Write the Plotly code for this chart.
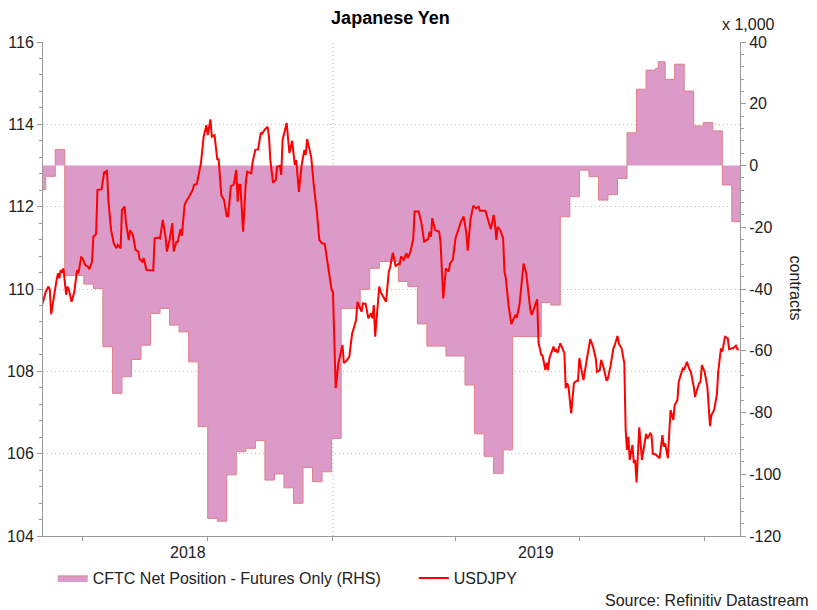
import plotly.graph_objects as go
import pandas as pd

# USDJPY daily close
usdjpy_dates = [
    "2018-06-01", "2018-06-04", "2018-06-06", "2018-06-07", "2018-06-08", "2018-06-10", "2018-06-12",
    "2018-06-13", "2018-06-14", "2018-06-15", "2018-06-16", "2018-06-17", "2018-06-19", "2018-06-20",
    "2018-06-21", "2018-06-23", "2018-06-25", "2018-06-27", "2018-06-28", "2018-06-30",
    "2018-07-01", "2018-07-03", "2018-07-05", "2018-07-06", "2018-07-08", "2018-07-09", "2018-07-11",
    "2018-07-12", "2018-07-15", "2018-07-17", "2018-07-18", "2018-07-19", "2018-07-20", "2018-07-22",
    "2018-07-24", "2018-07-26", "2018-07-27", "2018-07-29", "2018-07-30", "2018-08-01",
    "2018-08-02", "2018-08-04", "2018-08-05", "2018-08-07", "2018-08-09", "2018-08-11", "2018-08-12",
    "2018-08-14", "2018-08-15", "2018-08-17", "2018-08-19", "2018-08-22", "2018-08-23", "2018-08-26",
    "2018-08-27", "2018-08-29", "2018-08-31",
    "2018-09-01", "2018-09-03", "2018-09-05", "2018-09-06", "2018-09-08", "2018-09-09", "2018-09-11",
    "2018-09-12", "2018-09-14", "2018-09-15", "2018-09-17", "2018-09-20", "2018-09-21", "2018-09-23",
    "2018-09-26", "2018-09-28", "2018-09-30",
    "2018-10-01", "2018-10-03", "2018-10-04", "2018-10-06", "2018-10-08", "2018-10-09", "2018-10-11",
    "2018-10-13", "2018-10-15", "2018-10-16", "2018-10-18", "2018-10-20", "2018-10-22", "2018-10-23",
    "2018-10-24", "2018-10-25", "2018-10-27", "2018-10-29", "2018-10-30",
    "2018-11-02", "2018-11-03", "2018-11-05", "2018-11-07", "2018-11-09", "2018-11-10", "2018-11-12",
    "2018-11-14", "2018-11-15", "2018-11-16", "2018-11-18", "2018-11-20", "2018-11-21", "2018-11-23",
    "2018-11-24", "2018-11-25", "2018-11-27", "2018-11-28", "2018-11-30",
    "2018-12-02", "2018-12-04", "2018-12-05", "2018-12-07", "2018-12-09", "2018-12-11", "2018-12-12",
    "2018-12-13", "2018-12-16", "2018-12-18", "2018-12-20", "2018-12-22", "2018-12-24", "2018-12-26",
    "2018-12-28", "2018-12-31",
    "2019-01-01", "2019-01-02", "2019-01-03", "2019-01-05", "2019-01-07", "2019-01-08", "2019-01-09",
    "2019-01-11", "2019-01-13", "2019-01-15", "2019-01-18", "2019-01-19", "2019-01-20", "2019-01-22",
    "2019-01-23", "2019-01-25", "2019-01-27", "2019-01-29", "2019-01-30", "2019-01-31", "2019-02-01",
    "2019-02-04", "2019-02-05", "2019-02-07", "2019-02-09", "2019-02-11", "2019-02-12", "2019-02-14",
    "2019-02-15", "2019-02-16", "2019-02-18", "2019-02-19", "2019-02-20", "2019-02-22", "2019-02-24",
    "2019-02-25", "2019-02-27", "2019-03-01",
    "2019-03-02", "2019-03-05", "2019-03-07", "2019-03-09", "2019-03-12", "2019-03-13", "2019-03-14",
    "2019-03-15", "2019-03-17", "2019-03-20", "2019-03-21", "2019-03-23", "2019-03-25", "2019-03-27",
    "2019-03-28", "2019-03-30",
    "2019-04-01", "2019-04-03", "2019-04-05", "2019-04-07", "2019-04-09", "2019-04-10", "2019-04-12",
    "2019-04-14", "2019-04-16", "2019-04-18", "2019-04-19", "2019-04-23", "2019-04-26", "2019-04-27",
    "2019-04-29", "2019-04-30",
    "2019-05-01", "2019-05-02", "2019-05-04", "2019-05-06", "2019-05-07", "2019-05-08", "2019-05-10",
    "2019-05-12", "2019-05-15", "2019-05-16", "2019-05-18", "2019-05-21", "2019-05-23", "2019-05-25",
    "2019-05-26", "2019-05-27", "2019-05-29", "2019-05-31",
    "2019-06-01", "2019-06-03", "2019-06-04", "2019-06-06", "2019-06-07", "2019-06-08", "2019-06-09",
    "2019-06-11", "2019-06-12", "2019-06-13", "2019-06-14", "2019-06-15", "2019-06-17", "2019-06-19",
    "2019-06-20", "2019-06-21", "2019-06-22", "2019-06-23", "2019-06-25", "2019-06-27", "2019-06-29",
    "2019-06-30",
    "2019-07-01", "2019-07-03", "2019-07-04", "2019-07-06", "2019-07-08", "2019-07-09", "2019-07-11",
    "2019-07-13", "2019-07-14", "2019-07-16", "2019-07-17", "2019-07-19", "2019-07-21", "2019-07-22",
    "2019-07-24", "2019-07-26", "2019-07-27", "2019-07-29", "2019-07-30",
    "2019-08-01", "2019-08-03", "2019-08-04", "2019-08-05", "2019-08-06", "2019-08-07", "2019-08-09",
    "2019-08-10", "2019-08-11", "2019-08-12", "2019-08-13", "2019-08-14", "2019-08-16", "2019-08-18",
    "2019-08-19", "2019-08-20", "2019-08-22", "2019-08-23", "2019-08-24", "2019-08-26", "2019-08-28",
    "2019-08-29", "2019-08-31",
    "2019-09-01", "2019-09-02", "2019-09-04", "2019-09-05", "2019-09-06", "2019-09-08", "2019-09-09",
    "2019-09-11", "2019-09-12", "2019-09-14", "2019-09-15", "2019-09-16", "2019-09-18", "2019-09-19",
    "2019-09-21", "2019-09-23", "2019-09-24", "2019-09-25", "2019-09-27", "2019-09-28", "2019-09-29",
    "2019-10-01", "2019-10-03", "2019-10-05", "2019-10-06", "2019-10-08", "2019-10-10", "2019-10-11",
    "2019-10-13", "2019-10-14", "2019-10-16", "2019-10-18", "2019-10-19", "2019-10-21", "2019-10-22",
    "2019-10-24", "2019-10-25", "2019-10-26",
]
usdjpy = [
    109.57, 109.93, 110.06, 109.98, 109.39, 109.86, 110.22,
    110.38, 110.26, 110.46, 110.40, 110.50, 109.86, 110.06,
    109.98, 109.69, 109.93, 110.46, 110.38, 110.77,
    110.75, 110.58, 110.54, 110.48, 110.66, 111.27, 111.34,
    112.41, 112.42, 112.85, 112.82, 112.89, 112.16, 111.43,
    111.11, 110.99, 111.07, 110.99, 111.92, 112.00,
    111.60, 111.19, 111.43, 111.31, 110.95, 110.91, 110.72,
    110.66, 110.75, 110.46, 110.45, 110.45, 111.23, 111.25,
    111.23, 111.68, 111.27,
    110.91, 111.19, 111.60, 110.91, 111.15, 111.15, 111.45,
    111.29, 112.04, 112.12, 112.22, 112.41, 112.53, 112.55,
    113.05, 113.70, 113.98,
    113.74, 114.12, 113.70, 113.74, 113.15, 113.15, 112.28,
    112.16, 111.77, 111.77, 112.50, 112.53, 112.89, 112.12,
    112.53, 112.53, 111.39, 112.61, 112.85,
    112.81, 113.09, 113.38, 113.39, 113.80, 113.77, 113.88,
    113.94, 113.70, 113.13, 112.58, 112.65, 112.97, 112.99,
    112.77, 113.62, 113.86, 114.03, 113.30,
    113.60, 113.01, 113.13, 112.36, 113.01, 113.38, 113.26,
    113.64, 113.21, 112.49, 111.92, 111.19, 111.11, 111.09,
    110.62, 109.98,
    109.93, 108.84, 107.59, 108.20, 108.52, 108.64, 108.20,
    108.26, 108.35, 108.90, 109.25, 109.69, 109.61, 109.45,
    109.65, 109.64, 109.29, 109.41, 109.29, 109.61, 108.84,
    110.06, 109.93, 109.81, 109.69, 110.42, 110.53, 110.88,
    110.66, 110.56, 110.61, 110.60, 110.79, 110.71, 110.87,
    110.75, 110.91, 111.23,
    111.88, 111.88, 111.60, 111.15, 111.21, 111.39, 111.27,
    111.72, 111.43, 111.39, 111.15, 109.77, 110.50, 110.42,
    110.62, 110.70,
    111.23, 111.43, 111.63, 111.76, 111.35, 110.93, 111.68,
    112.02, 111.96, 112.00, 111.90, 111.90, 111.51, 111.45,
    111.80, 111.60,
    111.19, 111.51, 111.43, 111.23, 110.42, 110.26, 109.60,
    109.15, 109.37, 109.30, 109.61, 110.62, 110.38, 109.73,
    109.49, 109.37, 109.57, 109.75,
    108.70, 108.40, 108.38, 108.03, 108.21, 108.03, 108.32,
    108.52, 108.60, 108.48, 108.52, 108.45, 108.68, 108.52,
    108.44, 107.59, 107.71, 107.63, 106.98, 107.71, 107.77,
    107.77,
    108.32, 107.95, 107.79, 108.20, 108.56, 108.78, 108.60,
    108.32, 107.99, 108.03, 108.28, 108.07, 107.77, 107.83,
    108.15, 108.56, 108.64, 108.86, 108.67,
    108.56, 108.20, 106.58, 106.09, 106.41, 105.85, 106.21,
    105.77, 105.85, 105.30, 106.09, 106.64, 105.85, 106.25,
    106.48, 106.37, 106.49, 106.45, 106.00, 105.98, 105.91,
    105.89, 106.45,
    106.17, 106.25, 105.89, 106.49, 107.06, 106.82, 107.18,
    107.30, 107.75, 107.97, 108.07, 108.05, 108.23, 108.12,
    107.97, 107.63, 107.38, 107.51, 107.71, 107.75, 108.15,
    107.99, 107.63, 106.67, 106.94, 107.06, 107.43, 107.99,
    108.56, 108.48, 108.84, 108.80, 108.54, 108.56, 108.56,
    108.62, 108.54, 108.52,
]

# CFTC net position, futures only (thousands of contracts, weekly)
cftc_dates = [
    "2018-05-28", "2018-06-04", "2018-06-11", "2018-06-18", "2018-06-25", "2018-07-02", "2018-07-09",
    "2018-07-16", "2018-07-23", "2018-07-30", "2018-08-06", "2018-08-13", "2018-08-20", "2018-08-27",
    "2018-09-03", "2018-09-10", "2018-09-17", "2018-09-24", "2018-10-01", "2018-10-08", "2018-10-15",
    "2018-10-22", "2018-10-29", "2018-11-05", "2018-11-12", "2018-11-19", "2018-11-26", "2018-12-03",
    "2018-12-10", "2018-12-17", "2018-12-24", "2018-12-31", "2019-01-07", "2019-01-14", "2019-01-21",
    "2019-01-28", "2019-02-04", "2019-02-11", "2019-02-18", "2019-02-25", "2019-03-04", "2019-03-11",
    "2019-03-18", "2019-03-25", "2019-04-01", "2019-04-08", "2019-04-15", "2019-04-22", "2019-04-29",
    "2019-05-06", "2019-05-13", "2019-05-20", "2019-05-27", "2019-06-03", "2019-06-10", "2019-06-17",
    "2019-06-24", "2019-07-01", "2019-07-08", "2019-07-15", "2019-07-22", "2019-07-29", "2019-08-05",
    "2019-08-12", "2019-08-19", "2019-08-26", "2019-08-28", "2019-09-02", "2019-09-09", "2019-09-16",
    "2019-09-23", "2019-09-30", "2019-10-07", "2019-10-14", "2019-10-21", "2019-10-28",
]
cftc_net = [
    -7.8, -3.5, 5.2, -35.6, -35.6, -38.4, -39.8,
    -58.7, -73.8, -68.4, -62.8, -58.2, -47.9, -46.3,
    -51.7, -53.9, -63.6, -84.6, -114.3, -115.2, -100.2,
    -92.7, -91.6, -89.1, -101.9, -99.9, -104.4, -109.4,
    -97.8, -102.4, -99.2, -88.4, -46.3, -46.3, -40.1,
    -33.3, -31.1, -31.0, -37.6, -39.2, -51.3, -58.5,
    -58.5, -61.7, -61.7, -71.1, -86.9, -94.2, -99.7,
    -92.1, -55.4, -55.4, -55.4, -44.4, -45.2, -16.6,
    -10.1, -1.5, -3.6, -11.2, -9.4, -4.2, 10.6,
    24.7, 30.9, 31.5, 33.6, 27.9, 32.8, 24.1,
    12.8, 13.9, 11.2, -6.3, -18.2, -18.2,
]

x_range = ["2018-06-02", "2019-10-27"]
quarter_ticks = ["2018-07-01", "2018-10-01", "2019-01-01", "2019-04-01", "2019-07-01", "2019-10-01"]
year_starts = ["2018-01-01", "2019-01-01"]
year_labels = ["2018", "2019"]
yen_ticks = [104, 106, 108, 110, 112, 114, 116]
pos_ticks = [-120, -100, -80, -60, -40, -20, 0, 20, 40]

FONT = "Arial, Liberation Sans, sans-serif"
AXIS_GREY = "#9a9a9a"
GRID = "#9fcc98"
TXT = "#222222"

fig = go.Figure()

fig.add_trace(go.Scatter(
    x=cftc_dates, y=cftc_net, name="CFTC Net Position - Futures Only (RHS)",
    mode="lines", line=dict(shape="hv", color="#e07f86", width=1),
    fill="tozeroy", fillcolor="#dc9ac8", yaxis="y", legend="legend",
))
fig.add_trace(go.Scatter(
    x=usdjpy_dates, y=usdjpy, name="USDJPY",
    mode="lines", line=dict(color="#ff0000", width=2), yaxis="y2", legend="legend2",
))

# dotted line at the year boundary
fig.add_shape(type="line", xref="x", yref="paper", x0=year_starts[1], x1=year_starts[1],
              y0=0, y1=1, line=dict(color=GRID, width=1, dash="1px,3px"), layer="below")

# year labels centred on the visible part of each year
lo, hi = pd.Timestamp(x_range[0]), pd.Timestamp(x_range[1])
for start, lab in zip(year_starts, year_labels):
    a = max(pd.Timestamp(start), lo)
    b = min(pd.Timestamp(start) + pd.DateOffset(years=1), hi)
    mid = a + (b - a) / 2
    fig.add_annotation(x=mid, xref="x", y=0, yref="paper", yanchor="middle", yshift=-16,
                       text=lab, showarrow=False, font=dict(size=16, color=TXT))

fig.add_annotation(x=1.053, xref="paper", y=1.036, yref="paper", yanchor="middle",
                   text="x 1,000", showarrow=False, font=dict(size=16, color=TXT))
fig.add_annotation(x=1.0947, xref="paper", y=0.502, yref="paper", textangle=90,
                   text="contracts", showarrow=False, font=dict(size=16, color=TXT))
fig.add_annotation(x=1.102, xref="paper", xanchor="right", y=-0.1296, yref="paper", yanchor="middle",
                   text="Source: Refinitiv Datastream", showarrow=False, font=dict(size=16, color=TXT))

legend_style = dict(orientation="h", xanchor="left", y=-0.085, yanchor="middle",
                    font=dict(size=16, color=TXT), bgcolor="rgba(0,0,0,0)")

# the page shows the figure with an 8 px body margin, so the canvas is trimmed by that much
fig.update_layout(
    width=809, height=602,
    margin=dict(l=35, r=77, t=34, b=74, autoexpand=False),
    paper_bgcolor="white", plot_bgcolor="white",
    font=dict(family=FONT, size=16, color=TXT),
    title=dict(text="<b>Japanese Yen</b>", x=0.4728, xanchor="center", y=0.984, yanchor="middle",
               font=dict(size=18, color="black")),
    showlegend=True,
    legend=dict(x=0.014, **legend_style),
    legend2=dict(x=0.532, **legend_style),
    xaxis=dict(type="date", range=x_range, tickvals=quarter_ticks, ticktext=[""] * len(quarter_ticks),
               ticks="outside", ticklen=4, tickcolor=AXIS_GREY, showline=True, linecolor=AXIS_GREY,
               showgrid=False, zeroline=False, automargin=False),
    yaxis=dict(side="right", range=[-120, 40], tickvals=pos_ticks, ticktext=[str(v) for v in pos_ticks],
               ticks="outside", ticklen=5, tickcolor=AXIS_GREY, showline=True, linecolor=AXIS_GREY,
               showgrid=False, zeroline=False, automargin=False,
               minor=dict(dtick=4, ticks="outside", ticklen=3, tickcolor=AXIS_GREY, showgrid=False)),
    yaxis2=dict(side="left", overlaying="y", range=[104, 116], tickvals=yen_ticks,
                ticks="outside", ticklen=5, tickcolor=AXIS_GREY, showline=True, linecolor=AXIS_GREY,
                showgrid=True, gridcolor=GRID, griddash="1px,3px", gridwidth=1, zeroline=False,
                automargin=False,
                minor=dict(dtick=0.4, ticks="outside", ticklen=3, tickcolor=AXIS_GREY, showgrid=False)),
)

fig.write_html("out.html")
